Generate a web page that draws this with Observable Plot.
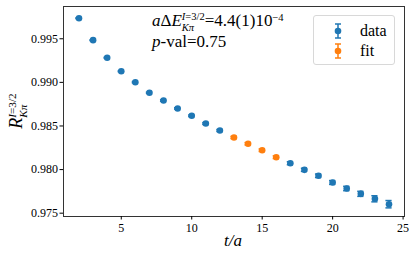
<!DOCTYPE html>
<html>
<head>
<meta charset="utf-8">
<script src="https://cdn.jsdelivr.net/npm/d3@7"></script>
<script src="https://cdn.jsdelivr.net/npm/@observablehq/plot@0.6"></script>
<style>
  body { margin: 0; background: white; }
  #wrap { position: relative; width: 416px; height: 260px; font-family: "Liberation Serif", "DejaVu Serif", serif; color: black; }
  #wrap svg { position: absolute; left: 0; top: 0; }
  #wrap svg text { font-family: "Liberation Serif", serif !important; fill: black; }
  .ov { position: absolute; white-space: nowrap; line-height: 1; }
  .it { font-style: italic; }
  .stack { display: inline-flex; flex-direction: column; vertical-align: middle; font-size: 0.62em; line-height: 1; }
</style>
</head>
<body>
<div id="wrap"></div>
<script>
// Data
const tData = [2,3,4,5,6,7,8,9,10,11,12,13,14,15,16,17,18,19,20,21,22,23,24];
const rData = [0.99736,0.99484,0.99282,0.99128,0.99002,0.98881,0.98792,0.98701,0.98617,0.98528,0.98448,0.98368,0.98296,0.98222,0.98142,0.98073,0.97997,0.97929,0.97852,0.97783,0.97722,0.97665,0.97603];
const errData = [0.00005,0.00005,0.00006,0.00006,0.00007,0.00007,0.00008,0.00008,0.00009,0.00010,0.00011,0.00012,0.00013,0.00014,0.00015,0.00017,0.00018,0.00020,0.00022,0.00025,0.00029,0.00035,0.00042];
const fitT = [13,14,15,16];
const xTicks = [5,10,15,20,25];
const yTicks = [0.975,0.980,0.985,0.990,0.995];
const seriesNames = ["data","fit"];
const seriesColors = ["#1f77b4","#ff7f0e"];

const rows = tData.map((t,i) => ({t, r: rData[i], e: errData[i], s: fitT.includes(t) ? "fit" : "data"}));
const capHalf = 0.22;
const serif = "Liberation Serif";

const chart = Plot.plot({
  width: 416, height: 260,
  marginLeft: 63, marginRight: 12, marginTop: 6, marginBottom: 44,
  style: { fontFamily: serif, fontSize: "12px", color: "black", background: "white" },
  x: { domain: [0.9, 25.1], ticks: xTicks, label: null },
  y: { domain: [0.97462, 0.99870], ticks: yTicks, tickFormat: d3.format(".3f"), label: null },
  color: { domain: seriesNames, range: seriesColors },
  marks: [
    Plot.frame({ stroke: "#333", strokeWidth: 1 }),
    Plot.axisX({ ticks: xTicks, tickSize: 3.5, tickPadding: 3, fontSize: 12, fontFamily: serif, label: null }),
    Plot.axisY({ ticks: yTicks, tickSize: 3.5, tickPadding: 2, tickFormat: d3.format(".3f"), fontSize: 12, fontFamily: serif, label: null }),
    Plot.ruleX(rows, { x: "t", y1: d => d.r - d.e, y2: d => d.r + d.e, stroke: "s", strokeWidth: 1.5 }),
    Plot.ruleY(rows, { y: d => d.r - d.e, x1: d => d.t - capHalf, x2: d => d.t + capHalf, stroke: "s", strokeWidth: 1.5 }),
    Plot.ruleY(rows, { y: d => d.r + d.e, x1: d => d.t - capHalf, x2: d => d.t + capHalf, stroke: "s", strokeWidth: 1.5 }),
    Plot.dot(rows, { x: "t", y: "r", fill: "s", r: 3.3, stroke: "none" })
  ]
});

const wrap = document.getElementById("wrap");
wrap.appendChild(chart);

function addOv(html, style) {
  const d = document.createElement("div");
  d.className = "ov";
  d.innerHTML = html;
  Object.assign(d.style, style);
  wrap.appendChild(d);
  return d;
}

// annotation
addOv('<span class="it">a</span>Δ<span class="it">E</span><span class="stack"><span><span class="it">I</span>=3/2</span><span class="it">Kπ</span></span>=4.4(1)10<sup style="font-size:0.62em;vertical-align:0.55em">−4</sup>',
  { left: "152px", top: "12px", fontSize: "17px" });
addOv('<span class="it">p</span>-val=0.75', { left: "152px", top: "33px", fontSize: "17px" });

// x label
addOv('<span class="it">t/a</span>', { left: "224px", top: "232px", fontSize: "17px" });

// y label
addOv('<span class="it">R</span><span class="stack"><span><span class="it">I</span>=3/2</span><span class="it">Kπ</span></span>',
  { left: "18px", top: "111px", fontSize: "18px", transform: "translate(-50%,-50%) rotate(-90deg)" });

// legend
const leg = document.createElement("div");
Object.assign(leg.style, { position: "absolute", left: "313px", top: "15px", width: "82px", height: "50px",
  border: "1px solid #d8d8d8", borderRadius: "3px", background: "rgba(255,255,255,0.85)", boxSizing: "border-box" });
wrap.appendChild(leg);
seriesNames.forEach((name, i) => {
  const c = seriesColors[i];
  const row = document.createElement("div");
  Object.assign(row.style, { position: "absolute", left: "14px", top: (6 + i * 20) + "px", height: "18px", display: "flex", alignItems: "center", fontSize: "16px" });
  row.innerHTML = `<svg width="20" height="18" style="position:static"><line x1="10" x2="10" y1="2" y2="16" stroke="${c}" stroke-width="1.5"/><line x1="7" x2="13" y1="2" y2="2" stroke="${c}" stroke-width="1.5"/><line x1="7" x2="13" y1="16" y2="16" stroke="${c}" stroke-width="1.5"/><circle cx="10" cy="9" r="3.3" fill="${c}"/></svg><span style="margin-left:12px">${name}</span>`;
  leg.appendChild(row);
});
</script>
</body>
</html>
